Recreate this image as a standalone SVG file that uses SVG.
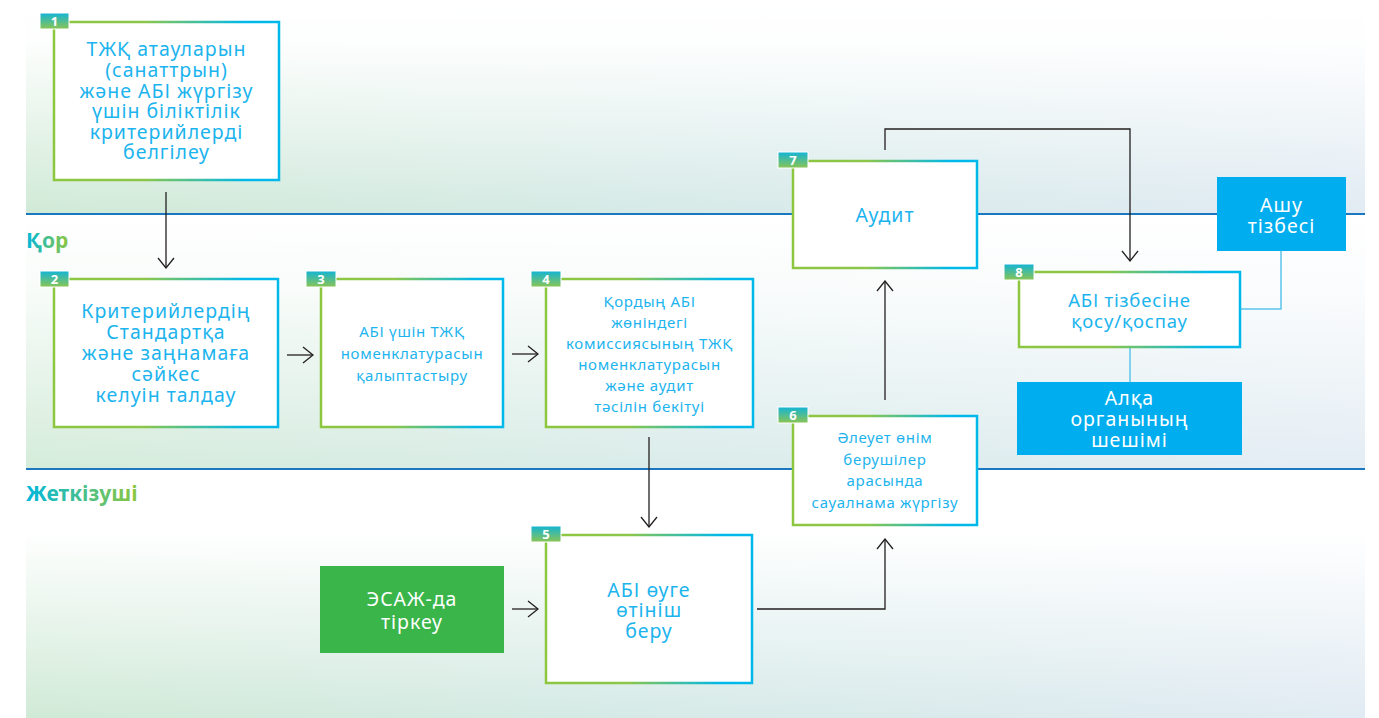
<svg xmlns="http://www.w3.org/2000/svg" width="1379" height="718" viewBox="0 0 1379 718">
<defs>
<linearGradient id="tint" x1="0" y1="0" x2="1" y2="0">
<stop offset="0" stop-color="#d0ead6"/><stop offset="0.5" stop-color="#d6eae8"/><stop offset="1" stop-color="#e1ebf3"/>
</linearGradient>
<linearGradient id="fadeTop" x1="0" y1="0" x2="0" y2="1">
<stop offset="0" stop-color="#ffffff" stop-opacity="1"/><stop offset="0.2" stop-color="#ffffff" stop-opacity="0.95"/><stop offset="1" stop-color="#ffffff" stop-opacity="0"/>
</linearGradient>
<linearGradient id="fadeMid" x1="0" y1="0" x2="0" y2="1">
<stop offset="0" stop-color="#ffffff" stop-opacity="1"/><stop offset="0.3" stop-color="#ffffff" stop-opacity="0.85"/><stop offset="1" stop-color="#ffffff" stop-opacity="0.1"/>
</linearGradient>
<linearGradient id="fadeBot" x1="0" y1="0" x2="0" y2="1">
<stop offset="0" stop-color="#ffffff" stop-opacity="1"/><stop offset="0.25" stop-color="#ffffff" stop-opacity="1"/><stop offset="1" stop-color="#ffffff" stop-opacity="0"/>
</linearGradient>
<linearGradient id="border" x1="0" y1="0" x2="1" y2="0">
<stop offset="0" stop-color="#8dc63f"/><stop offset="0.4" stop-color="#8cc64a"/><stop offset="0.85" stop-color="#00b8ea"/><stop offset="1" stop-color="#00b8ea"/>
</linearGradient>
<linearGradient id="badge" x1="0" y1="0" x2="0" y2="1">
<stop offset="0" stop-color="#12b4d6"/><stop offset="1" stop-color="#8ac553"/>
</linearGradient>
<linearGradient id="lblGrad" x1="0" y1="0" x2="1" y2="0">
<stop offset="0" stop-color="#00b7dc"/><stop offset="1" stop-color="#8cc63f"/>
</linearGradient>
<marker id="arr" viewBox="0 0 12 18" refX="11" refY="9" markerWidth="12" markerHeight="18" markerUnits="userSpaceOnUse" orient="auto">
<path d="M1,1 L11,9 L1,17" fill="none" stroke="#231f20" stroke-width="1.3"/>
</marker>
<style>
.box{fill:#ffffff;stroke:url(#border);stroke-width:2.5}
.bdg{fill:url(#badge);stroke:#ffffff;stroke-width:1}
.num{font-family:"Open Sans","Noto Sans",sans-serif;font-weight:700;font-size:13px;fill:#ffffff;text-anchor:middle}
.t{font-family:"Noto Sans","DejaVu Sans",sans-serif;fill:#1cb4ee;text-anchor:middle}
.big{font-size:19.5px;letter-spacing:1px}
.sm{font-size:15px;letter-spacing:0.7px}
.w{fill:#ffffff}
.con{fill:none;stroke:#231f20;stroke-width:1.3}
.lb{fill:none;stroke:#5cc4ec;stroke-width:1.5}
.lane{stroke:#1b78c0;stroke-width:2}
.lbl{font-family:"Noto Sans",sans-serif;font-weight:700;font-size:21px;fill:url(#lblGrad)}
</style>
</defs>

<g id="background">
<rect x="26" y="0" width="1339" height="214" fill="url(#tint)"/>
<rect x="26" y="0" width="1339" height="214" fill="url(#fadeTop)"/>
<rect x="26" y="214" width="1339" height="255" fill="url(#tint)"/>
<rect x="26" y="214" width="1339" height="255" fill="url(#fadeMid)"/>
<rect x="26" y="469" width="1339" height="249" fill="url(#tint)"/>
<rect x="26" y="469" width="1339" height="249" fill="url(#fadeBot)"/>
<line class="lane" x1="26" y1="214" x2="1365" y2="214"/>
<line class="lane" x1="26" y1="469" x2="1365" y2="469"/>
<text class="lbl" x="26" y="248">Қор</text>
<text class="lbl" x="26" y="501">Жеткізуші</text>
</g>

<g id="connectors">
<line class="con" x1="166" y1="192" x2="166" y2="268" marker-end="url(#arr)"/>
<line class="con" x1="287" y1="355" x2="313" y2="355" marker-end="url(#arr)"/>
<line class="con" x1="512" y1="354" x2="538" y2="354" marker-end="url(#arr)"/>
<line class="con" x1="649" y1="437" x2="649" y2="527" marker-end="url(#arr)"/>
<line class="con" x1="512" y1="609" x2="538" y2="609" marker-end="url(#arr)"/>
<polyline class="con" points="757,609 885,609 885,539" marker-end="url(#arr)"/>
<line class="con" x1="885" y1="400" x2="885" y2="281" marker-end="url(#arr)"/>
<polyline class="con" points="885,150 885,129 1130,129 1130,261" marker-end="url(#arr)"/>
<polyline class="lb" points="1281,251 1281,309 1240,309"/>
<line class="lb" x1="1130" y1="347" x2="1130" y2="382"/>
</g>

<g id="node1">
<rect class="box" x="54" y="22" width="225" height="158"/>
<rect class="bdg" x="40" y="13" width="29" height="16"/>
<text class="num" x="54.5" y="25.5">1</text>
<text class="t big"><tspan x="166.5" y="56">ТЖҚ атауларын</tspan><tspan x="166.5" y="77">(санаттрын)</tspan><tspan x="166.5" y="97.5">және АБІ жүргізу</tspan><tspan x="166.5" y="118">үшін біліктілік</tspan><tspan x="166.5" y="139">критерийлерді</tspan><tspan x="166.5" y="159">белгілеу</tspan></text>
</g>

<g id="node2">
<rect class="box" x="54" y="279" width="224" height="148"/>
<rect class="bdg" x="40" y="271" width="29" height="16"/>
<text class="num" x="54.5" y="283.5">2</text>
<text class="t big"><tspan x="166" y="318">Критерийлердің</tspan><tspan x="166" y="339">Стандартқа</tspan><tspan x="166" y="360">және заңнамаға</tspan><tspan x="166" y="381">сәйкес</tspan><tspan x="166" y="402">келуін талдау</tspan></text>
</g>

<g id="node3">
<rect class="box" x="321" y="279" width="182" height="148"/>
<rect class="bdg" x="306" y="271" width="30" height="16"/>
<text class="num" x="321" y="283.5">3</text>
<text class="t sm"><tspan x="412" y="337">АБІ үшін ТЖҚ</tspan><tspan x="412" y="359">номенклатурасын</tspan><tspan x="412" y="381">қалыптастыру</tspan></text>
</g>

<g id="node4">
<rect class="box" x="546" y="279" width="207" height="148"/>
<rect class="bdg" x="531" y="271" width="30" height="16"/>
<text class="num" x="546" y="283.5">4</text>
<text class="t sm"><tspan x="649.5" y="307">Қордың АБІ</tspan><tspan x="649.5" y="328">жөніндегі</tspan><tspan x="649.5" y="349">комиссиясының ТЖҚ</tspan><tspan x="649.5" y="370">номенклатурасын</tspan><tspan x="649.5" y="391">және аудит</tspan><tspan x="649.5" y="412">тәсілін бекітуі</tspan></text>
</g>

<g id="node5">
<rect class="box" x="546" y="535" width="206" height="148"/>
<rect class="bdg" x="531" y="526" width="30" height="16"/>
<text class="num" x="546" y="538.5">5</text>
<text class="t big"><tspan x="649" y="597">АБІ өуге</tspan><tspan x="649" y="617">өтініш</tspan><tspan x="649" y="638">беру</tspan></text>
</g>

<g id="node-esaj">
<rect x="320" y="566" width="184" height="87" fill="#39b54a"/>
<text class="t big w"><tspan x="412" y="606">ЭСАЖ-да</tspan><tspan x="412" y="629">тіркеу</tspan></text>
</g>

<g id="node6">
<rect class="box" x="793" y="416" width="184" height="109"/>
<rect class="bdg" x="778" y="407" width="30" height="16"/>
<text class="num" x="793" y="419.5">6</text>
<text class="t sm"><tspan x="885" y="443">Әлеует өнім</tspan><tspan x="885" y="465">берушілер</tspan><tspan x="885" y="486">арасында</tspan><tspan x="885" y="508">сауалнама жүргізу</tspan></text>
</g>

<g id="node7">
<rect class="box" x="793" y="161" width="184" height="107"/>
<rect class="bdg" x="778" y="152" width="30" height="16"/>
<text class="num" x="793" y="164.5">7</text>
<text class="t big" x="885" y="222">Аудит</text>
</g>

<g id="node8">
<rect class="box" x="1019" y="272" width="221" height="75"/>
<rect class="bdg" x="1004" y="264" width="30" height="16"/>
<text class="num" x="1019" y="276.5">8</text>
<text class="t" style="font-size:18.5px;letter-spacing:0.8px"><tspan x="1129.5" y="307">АБІ тізбесіне</tspan><tspan x="1129.5" y="328">қосу/қоспау</tspan></text>
</g>

<g id="node-ashu">
<rect x="1217" y="177" width="129" height="74" fill="#00aeef"/>
<text class="t big w"><tspan x="1281.5" y="212">Ашу</tspan><tspan x="1281.5" y="233">тізбесі</tspan></text>
</g>

<g id="node-alka">
<rect x="1017" y="382" width="225" height="73" fill="#00aeef"/>
<text class="t big w"><tspan x="1129.5" y="405">Алқа</tspan><tspan x="1129.5" y="426">органының</tspan><tspan x="1129.5" y="447">шешімі</tspan></text>
</g>
</svg>
